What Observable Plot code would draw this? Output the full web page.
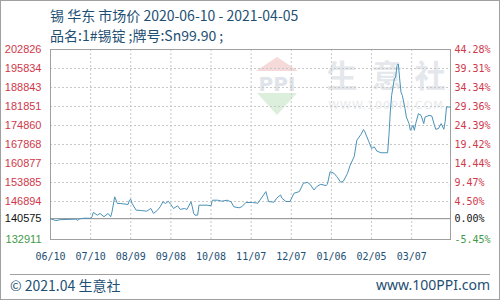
<!DOCTYPE html>
<html><head><meta charset="utf-8">
<script src="https://cdn.jsdelivr.net/npm/d3@7"></script>
<script src="https://cdn.jsdelivr.net/npm/@observablehq/plot@0.6"></script>
<style>
body{margin:0;background:#fff;}
#wrap{position:relative;width:500px;height:300px;overflow:hidden;background:#fff;font-family:"Noto Sans CJK SC","Noto Sans",sans-serif;}
#border{position:absolute;left:0;top:0;width:500px;height:300px;box-sizing:border-box;border:1px solid #a0a0a0;pointer-events:none;}
#title{position:absolute;left:50px;top:5px;font-size:14px;line-height:20px;color:#1e4f73;white-space:nowrap;}
#chart{position:absolute;left:0;top:40px;}
#wm{position:absolute;left:0;top:0;}
#sep{position:absolute;left:10px;top:274px;width:480px;height:1px;background:#a0a0a0;}
#foot-l{position:absolute;left:10px;top:275px;font-size:14px;line-height:20px;color:#1e4f73;}
#foot-r{position:absolute;right:10px;top:275px;font-size:14px;line-height:20px;color:#1e4f73;font-family:"Noto Sans",sans-serif;}
</style></head>
<body>
<div id="wrap">
<svg id="wm" width="500" height="300">
  <polygon points="277,57 298,71 256,71" fill="#f6d9d9"/>
  <text x="277" y="91" text-anchor="middle" font-size="20" font-weight="bold" fill="#dfe4ea" font-family="DejaVu Sans">PPI</text>
  <polygon points="257,93 297,93 277,115" fill="#dcefdc"/>
  <text x="342" y="87" text-anchor="middle" font-size="31" font-weight="bold" fill="#e4e7eb">生</text>
  <text x="387" y="87" text-anchor="middle" font-size="31" font-weight="bold" fill="#e4e7eb">意</text>
  <text x="430" y="87" text-anchor="middle" font-size="31" font-weight="bold" fill="#e4e7eb">社</text>
  <text x="386" y="109" text-anchor="middle" font-size="11" fill="#e6e9ec" font-family="DejaVu Sans" letter-spacing="1">WWW.100PPI.COM</text>
</svg>
<div id="title">锡 华东 市场价 2020-06-10 - 2021-04-05<br>品名:1#锡锭 ;牌号:Sn99.90 ;</div>
<div id="chart"></div>
<div id="sep"></div>
<div id="foot-l">© 2021.04 生意社</div>
<div id="foot-r">www.100PPI.com</div>
<div id="border"></div>
</div>
<script>
const dates = ["2020-06-10","2020-06-14","2020-06-17","2020-06-23","2020-06-29","2020-06-30","2020-07-02","2020-07-06","2020-07-10","2020-07-11","2020-07-12","2020-07-15","2020-07-17","2020-07-20","2020-07-23","2020-07-25","2020-07-26","2020-07-28","2020-07-30","2020-08-01","2020-08-07","2020-08-08","2020-08-09","2020-08-10","2020-08-13","2020-08-16","2020-08-21","2020-08-24","2020-08-26","2020-08-29","2020-08-31","2020-09-02","2020-09-04","2020-09-06","2020-09-08","2020-09-10","2020-09-13","2020-09-15","2020-09-18","2020-09-20","2020-09-23","2020-09-24","2020-09-25","2020-09-26","2020-09-28","2020-09-29","2020-10-05","2020-10-08","2020-10-09","2020-10-13","2020-10-16","2020-10-20","2020-10-23","2020-10-25","2020-10-29","2020-10-31","2020-11-03","2020-11-08","2020-11-12","2020-11-18","2020-11-20","2020-11-24","2020-11-26","2020-11-29","2020-11-30","2020-12-03","2020-12-06","2020-12-09","2020-12-13","2020-12-16","2020-12-19","2020-12-21","2020-12-24","2020-12-26","2020-12-29","2021-01-02","2021-01-03","2021-01-05","2021-01-08","2021-01-10","2021-01-13","2021-01-15","2021-01-18","2021-01-20","2021-01-23","2021-01-25","2021-01-28","2021-01-30","2021-01-31","2021-02-03","2021-02-05","2021-02-07","2021-02-09","2021-02-12","2021-02-17","2021-02-18","2021-02-19","2021-02-20","2021-02-22","2021-02-23","2021-02-24","2021-02-25","2021-02-26","2021-02-27","2021-02-28","2021-03-02","2021-03-03","2021-03-05","2021-03-06","2021-03-08","2021-03-09","2021-03-10","2021-03-12","2021-03-14","2021-03-16","2021-03-17","2021-03-20","2021-03-22","2021-03-24","2021-03-25","2021-03-27","2021-03-29","2021-03-31","2021-04-01","2021-04-02","2021-04-05"];
const prices = [140575,139830,140196,140306,140416,139940,140562,140782,140672,141290,142868,141880,142500,141290,142500,141290,143125,148614,146162,146162,145796,147370,147736,146162,143710,143600,143344,144332,142502,143710,144954,146784,146162,147004,145796,144332,145320,143966,144332,143966,146784,144954,142502,141880,141880,145540,145540,145320,147370,147370,147004,147370,146784,144954,144588,144954,146528,146528,146272,150554,146894,146638,148102,149310,148102,146894,146894,149932,150554,153592,153958,153226,151140,152384,153226,152750,153226,157874,157252,156044,153958,154434,157252,160290,163364,169440,171526,173356,172514,168854,166402,167024,165414,164828,164828,171270,179834,185943,192006,192628,196888,197516,192006,187154,185943,181042,178004,175552,173100,174930,173100,175552,179212,178590,175552,178004,178590,178370,174930,173466,173722,175552,173466,176284,181664,181664];
const yTicks = [132911,140575,146894,153885,160877,167868,174860,181851,188843,195834,202826];
const pctLabels = ["-5.45%","0.00%","4.50%","9.47%","14.44%","19.42%","24.39%","29.36%","34.34%","39.31%","44.28%"];
const xTickDates = ["2020-06-10","2020-07-10","2020-08-09","2020-09-08","2020-10-08","2020-11-07","2020-12-07","2021-01-06","2021-02-05","2021-03-07"];
const xTickLabels = ["06/10","07/10","08/09","09/08","10/08","11/07","12/07","01/06","02/05","03/07"];
const startDate = "2020-06-10", endDate = "2021-04-05";
const basePrice = 140575;

const parse = d3.utcParse("%Y-%m-%d");
const series = dates.map((d, i) => ({date: parse(d), price: prices[i]}));
const t0 = parse(startDate), t1 = parse(endDate);
const yMin = yTicks[0], yMax = yTicks[yTicks.length - 1];
const tickRows = yTicks.map((v, i) => ({v, pct: pctLabels[i]}));
const labColor = v => v > basePrice ? "#d0384a" : (v < basePrice ? "#3f9a48" : "#111111");
const gridY = yTicks.filter(v => v !== yMin && v !== yMax && v !== basePrice);
const xRows = xTickDates.map((d, i) => ({date: parse(d), label: xTickLabels[i]}));

const chart = Plot.plot({
  width: 500, height: 224,
  marginLeft: 50, marginRight: 50, marginTop: 9, marginBottom: 25,
  style: {background: "transparent", overflow: "visible"},
  x: {type: "utc", domain: [t0, t1], axis: null},
  y: {domain: [yMin, yMax], axis: null},
  color: {type: "identity"},
  marks: [
    Plot.ruleY(gridY, {stroke: "#c8c8c8", strokeDasharray: "2,2"}),
    Plot.ruleX(xRows.slice(1), {x: "date", stroke: "#c8c8c8", strokeDasharray: "2,2"}),
    Plot.ruleY([basePrice], {stroke: "#8a8a8a"}),
    Plot.frame({stroke: "#a0a0a0"}),
    Plot.line(series, {x: "date", y: "price", stroke: "#4a92b8", strokeWidth: 1}),
    Plot.text(tickRows, {x: () => t0, y: "v", text: d => String(d.v), fill: d => labColor(d.v), textAnchor: "end", dx: -9, fontSize: 11, fontFamily: "Liberation Sans"}),
    Plot.text(tickRows, {x: () => t1, y: "v", text: "pct", fill: d => labColor(d.v), textAnchor: "start", dx: 4, fontSize: 10, fontFamily: "DejaVu Sans Mono"}),
    Plot.text(xRows, {x: "date", y: () => yMin, text: "label", dy: 17, fill: "#1e4f73", fontSize: 10, fontFamily: "DejaVu Sans Mono"})
  ]
});
document.getElementById("chart").appendChild(chart);
</script>
</body></html>
